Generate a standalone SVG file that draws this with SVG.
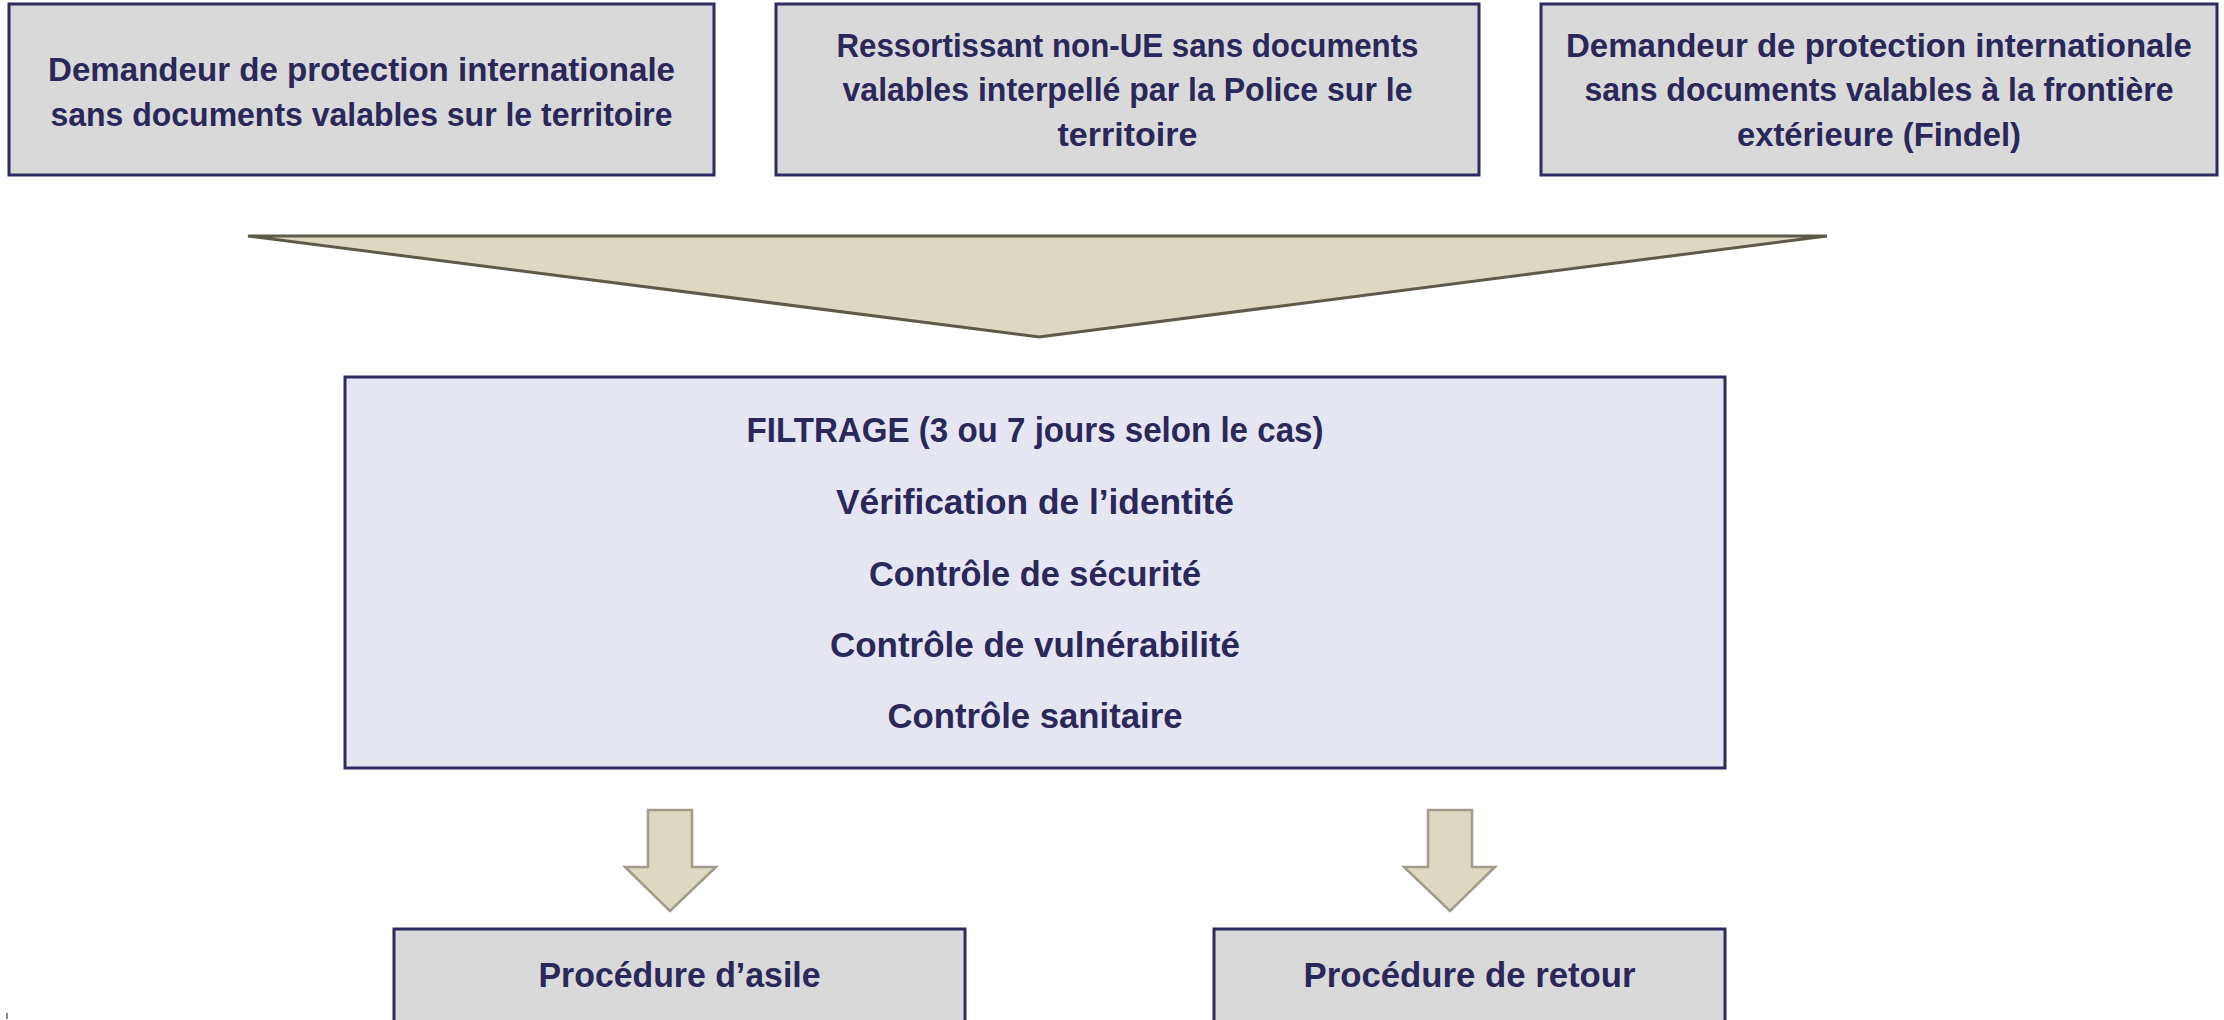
<svg xmlns="http://www.w3.org/2000/svg" width="2224" height="1020" viewBox="0 0 2224 1020">
  <style>
    .box { fill: #d9d9d9; stroke: #2d2b60; stroke-width: 3; }
    .filt { fill: #e6e6f3; stroke: #2d2b60; stroke-width: 3; }
    .t { font-family: "Liberation Sans", Arial, sans-serif; font-weight: bold; fill: #2a2858; text-anchor: middle; }
    .s33 { font-size: 33px; }
    .s35 { font-size: 35.5px; }
    .funnel { fill: #ddd8c2; stroke: #5e5a4a; stroke-width: 3; stroke-linejoin: miter; }
    .arrow { fill: #ddd8c2; stroke: #a19c89; stroke-width: 2.5; }
  </style>
  <rect width="2224" height="1020" fill="#ffffff"/>

  <g id="source-territoire">
    <rect class="box" x="9" y="4" width="705" height="171"/>
    <text class="t s33" x="361.5" y="81" textLength="627" lengthAdjust="spacingAndGlyphs">Demandeur de protection internationale</text>
    <text class="t s33" x="361.5" y="126" textLength="622" lengthAdjust="spacingAndGlyphs">sans documents valables sur le territoire</text>
  </g>

  <g id="source-police">
    <rect class="box" x="776" y="4" width="703" height="171"/>
    <text class="t s33" x="1127.5" y="57" textLength="582" lengthAdjust="spacingAndGlyphs">Ressortissant non-UE sans documents</text>
    <text class="t s33" x="1127.5" y="101" textLength="570" lengthAdjust="spacingAndGlyphs">valables interpellé par la Police sur le</text>
    <text class="t s33" x="1127.5" y="146" textLength="140" lengthAdjust="spacingAndGlyphs">territoire</text>
  </g>

  <g id="source-frontiere">
    <rect class="box" x="1541" y="4" width="676" height="171"/>
    <text class="t s33" x="1879" y="57" textLength="626" lengthAdjust="spacingAndGlyphs">Demandeur de protection internationale</text>
    <text class="t s33" x="1879" y="101" textLength="589" lengthAdjust="spacingAndGlyphs">sans documents valables à la frontière</text>
    <text class="t s33" x="1879" y="146" textLength="284" lengthAdjust="spacingAndGlyphs">extérieure (Findel)</text>
  </g>

  <g id="connectors">
    <polygon id="funnel" class="funnel" points="248,236 1827,236 1039,337"/>
    <polygon id="arrow-asile" class="arrow" points="648,810 692,810 692,867 716,867 670,911 625,867 648,867"/>
    <polygon id="arrow-retour" class="arrow" points="1428,810 1472,810 1472,867 1495,867 1450,911 1404,867 1428,867"/>
  </g>

  <g id="filtrage">
    <rect class="filt" x="345" y="377" width="1380" height="391"/>
    <text class="t s35" x="1035" y="442" textLength="577" lengthAdjust="spacingAndGlyphs">FILTRAGE (3 ou 7 jours selon le cas)</text>
    <text class="t s35" x="1035" y="514" textLength="398" lengthAdjust="spacingAndGlyphs">Vérification de l’identité</text>
    <text class="t s35" x="1035" y="586" textLength="332" lengthAdjust="spacingAndGlyphs">Contrôle de sécurité</text>
    <text class="t s35" x="1035" y="657" textLength="410" lengthAdjust="spacingAndGlyphs">Contrôle de vulnérabilité</text>
    <text class="t s35" x="1035" y="728" textLength="295" lengthAdjust="spacingAndGlyphs">Contrôle sanitaire</text>
  </g>

  <g id="procedure-asile">
    <rect class="box" x="394" y="929" width="571" height="110"/>
    <text class="t s35" x="679.5" y="987" textLength="282" lengthAdjust="spacingAndGlyphs">Procédure d’asile</text>
  </g>

  <g id="procedure-retour">
    <rect class="box" x="1214" y="929" width="511" height="110"/>
    <text class="t s35" x="1469.5" y="987" textLength="332" lengthAdjust="spacingAndGlyphs">Procédure de retour</text>
  </g>

  <rect x="6" y="1013" width="2" height="6" fill="#8a8a8a"/>
</svg>
